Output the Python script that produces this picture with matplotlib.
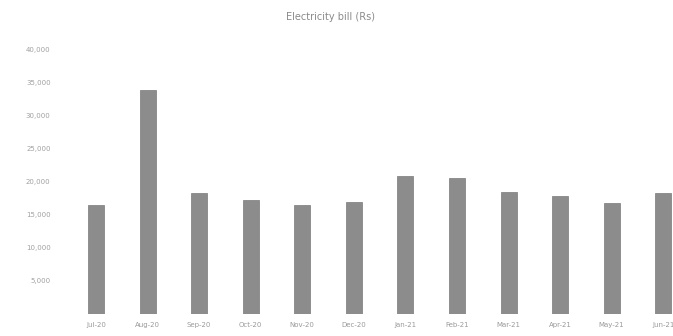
import matplotlib
matplotlib.use("Agg")
import matplotlib.pyplot as plt
from matplotlib.ticker import FuncFormatter

months = ["Jul-20", "Aug-20", "Sep-20", "Oct-20", "Nov-20", "Dec-20",
          "Jan-21", "Feb-21", "Mar-21", "Apr-21", "May-21", "Jun-21"]
bill = [16500, 34000, 18300, 17300, 16500, 17000,
        20900, 20600, 18500, 17900, 16800, 18300]
yticks = [5000, 10000, 15000, 20000, 25000, 30000, 35000, 40000]

W, H = 673, 336
fig = plt.figure(figsize=(W / 100, H / 100), dpi=100)
# axes placed in pixel terms: left 70, right edge of figure, bottom 314, top 40
ax = fig.add_axes([70 / W, (H - 314) / H, 1 - 70 / W, (314 - 40) / H])

x = list(range(len(months)))
ax.bar(x, bill, width=0.31, color="#8c8c8c", edgecolor="#7a7a7a", linewidth=0.5)

ax.set_xlim(-0.504, 11.19)
ax.set_ylim(0, 41515)
ax.set_xticks(x)
ax.set_xticklabels(months, fontsize=5, color="#9a9a9a")
ax.set_yticks(yticks)
ax.yaxis.set_major_formatter(FuncFormatter(lambda v, p: "{:,.0f}".format(v)))
ax.tick_params(axis="y", labelsize=5, colors="#a0a0a0", length=0, pad=14)
ax.tick_params(axis="x", length=0, pad=6)
for s in ax.spines.values():
    s.set_visible(False)

fig.text(330 / W, 1 - 17 / H, "Electricity bill (Rs)", ha="center", va="center",
         fontsize=7, color="#8a8a8a")

fig.savefig("out.png", dpi=100)
